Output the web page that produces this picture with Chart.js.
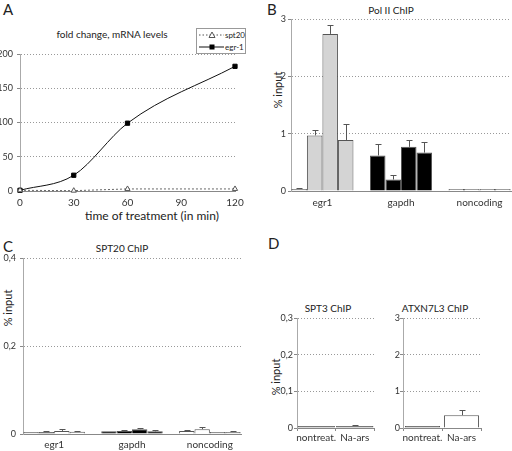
<!DOCTYPE html>
<html lang="en">
<head>
<meta charset="UTF-8" />
<title>mRNA fold change and ChIP</title>
<script src="https://cdn.jsdelivr.net/npm/chart.js"></script>
<style>
  body { margin: 0; background: #fff; font-family: Lato, "Noto Sans", sans-serif; color: #222; }
  #fig { position: relative; width: 512px; height: 451px; overflow: hidden; }
  #fig canvas { position: absolute; }
  .t { position: absolute; white-space: nowrap; transform: translate(-50%, -50%); font-size: 10px; }
  .panel { position: absolute; font-size: 15px; line-height: 1; }
  .yt { position: absolute; white-space: nowrap; font-size: 11px; transform: translate(-50%, -50%) rotate(-90deg); }
  #legA { position: absolute; left: 196px; top: 28px; width: 48px; height: 24px; border: 1px solid #999; font-size: 8px; }
  #legA div { height: 12px; display: flex; align-items: center; white-space: nowrap; }
</style>
</head>
<body>
<div id="fig">
  <div class="panel" style="left:3px;top:2px">A</div>
  <div class="panel" style="left:267px;top:2px">B</div>
  <div class="panel" style="left:3px;top:239px">C</div>
  <div class="panel" style="left:268px;top:236px">D</div>

  <div class="t" style="left:112px;top:34px">fold change, mRNA levels</div>
  <div class="t" style="left:152px;top:215px;font-size:12px">time of treatment (in min)</div>
  <div class="t" style="left:391px;top:10px">Pol II ChIP</div>
  <div class="t" style="left:122px;top:248px">SPT20 ChIP</div>
  <div class="t" style="left:328px;top:308px">SPT3 ChIP</div>
  <div class="t" style="left:435px;top:308px">ATXN7L3 ChIP</div>
  <div class="yt" style="left:277px;top:90px">% input</div>
  <div class="yt" style="left:7px;top:308px">% input</div>
  <div class="yt" style="left:275px;top:377px">% input</div>

  <div id="legA"></div>

  <canvas id="chartD1" width="130" height="226" style="left:256px;top:225px"></canvas>
  <canvas id="chartD2" width="126" height="226" style="left:386px;top:225px"></canvas>
  <canvas id="chartA" width="256" height="225" style="left:0;top:0"></canvas>
  <canvas id="chartB" width="256" height="225" style="left:256px;top:0"></canvas>
  <canvas id="chartC" width="256" height="226" style="left:0;top:225px"></canvas>
</div>

<script>
  // A: fold change of mRNA over time
  const timePoints = [0, 30, 60, 120];
  const egr1Fold = [1, 23, 99, 182];
  const spt20Fold = [1, 0.5, 3, 3];
  const seriesNames = ['spt20', 'egr-1'];

  // B / C: gene groups, four bars each
  const genes = ['egr1', 'gapdh', 'noncoding'];

  const polII1 = [0.02, 0.62, 0.005];
  const polII2 = [0.97, 0.20, 0.005];
  const polII3 = [2.74, 0.77, 0.005];
  const polII4 = [0.89, 0.67, 0.005];
  const polIIErr1 = [0.01, 0.2, 0];
  const polIIErr2 = [0.1, 0.08, 0];
  const polIIErr3 = [0.15, 0.12, 0];
  const polIIErr4 = [0.28, 0.19, 0];

  const spt20b1 = [0.003, 0.006, 0.007];
  const spt20b2 = [0.002, 0.007, 0.011];
  const spt20b3 = [0.007, 0.011, 0.003];
  const spt20b4 = [0.005, 0.006, 0.004];
  const spt20Err1 = [0, 0, 0.002];
  const spt20Err2 = [0.002, 0.001, 0.004];
  const spt20Err3 = [0.004, 0.002, 0];
  const spt20Err4 = [0.002, 0.001, 0.001];

  // D: treatment comparison
  const treatments = ['nontreat.', 'Na-ars'];
  const spt3 = [0.002, 0.002];
  const spt3Err = [0, 0.001];
  const atxn7l3 = [0.01, 0.35];
  const atxn7l3Err = [0, 0.14];
  const spt3Ticks = [0, 0.1, 0.2, 0.3];

  const polIIFill = ['#d4d4d4', '#000', '#fff'];
  const spt20Fill = [
    ['#ccc', '#000', '#fff'],
    ['#555', '#000', '#fff'],
    ['#fff', '#000', '#ccc'],
    ['#fff', '#000', '#ccc']
  ];

  Chart.defaults.font.family = 'Lato, "Noto Sans", sans-serif';
  Chart.defaults.color = '#333';
  Chart.defaults.animation = false;
  Chart.defaults.plugins.legend.display = false;
  Chart.defaults.plugins.tooltip.enabled = false;

  const errorBars = {
    id: 'errorBars',
    afterDatasetsDraw(chart) {
      const ctx = chart.ctx, ys = chart.scales.y;
      ctx.save();
      ctx.strokeStyle = '#555';
      ctx.lineWidth = 1;
      chart.data.datasets.forEach((ds, di) => {
        if (!ds.errors) return;
        chart.getDatasetMeta(di).data.forEach((bar, i) => {
          const err = ds.errors[i];
          if (!err) return;
          const raw = ds.data[i];
          const v = typeof raw === 'object' ? raw.y : raw;
          const top = Math.round(Math.min(ys.getPixelForValue(v + err), bar.y - 1)) + 0.5;
          const x = Math.round(bar.x) + 0.5;
          ctx.beginPath();
          ctx.moveTo(x, bar.y);
          ctx.lineTo(x, top);
          ctx.moveTo(x - 3, top);
          ctx.lineTo(x + 3, top);
          ctx.stroke();
        });
      });
      ctx.restore();
    }
  };

  function yScale(max, step, width, pad, digits, tickList) {
    const s = {
      min: 0, max,
      ticks: {
        stepSize: step, padding: pad, font: { size: 9 }, autoSkip: false,
        callback: v => digits ? (v === 0 ? '0' : v.toFixed(digits).replace('.', ',')) : String(v)
      },
      grid: { color: '#999', tickLength: 3, tickColor: '#888' },
      border: { color: '#aaa', dash: [1, 2] },
      afterFit: sc => { sc.width = width; sc.paddingTop = 0; sc.paddingBottom = 0; }
    };
    if (tickList) s.afterBuildTicks = sc => { sc.ticks = tickList.map(value => ({ value })); };
    return s;
  }

  function pairBars(id, values, errors, fills, max, step, yw, ypad, right, catPct, digits, tickList) {
    return new Chart(document.getElementById(id), {
      type: 'bar',
      data: {
        labels: treatments,
        datasets: [{
          data: values, errors,
          backgroundColor: fills,
          borderColor: '#555', borderWidth: 1,
          minBarLength: 2,
          categoryPercentage: catPct, barPercentage: 1
        }]
      },
      options: {
        responsive: false,
        layout: { padding: { left: 0, right, top: 93, bottom: 0 } },
        scales: {
          x: {
            ticks: { padding: 1, font: { size: 10 }, maxRotation: 0, minRotation: 0, autoSkip: false },
            grid: { drawOnChartArea: false, tickLength: 3, color: '#888' },
            border: { color: '#888' },
            afterFit: s => { s.height = 23; s.paddingLeft = 0; s.paddingRight = 0; }
          },
          y: yScale(max, step, yw, ypad, digits, tickList)
        }
      },
      plugins: [errorBars]
    });
  }

  // D first
  pairBars('chartD1', spt3, spt3Err, ['#666', '#666'], 0.3, 0.1, 41, 1, 12, 0.97, 1, spt3Ticks);
  pairBars('chartD2', atxn7l3, atxn7l3Err, ['#666', '#fff'], 3, 1, 17, 0, 31, 0.9);

  // A
  new Chart(document.getElementById('chartA'), {
    type: 'line',
    data: {
      datasets: [
        {
          label: seriesNames[0],
          data: timePoints.map((t, i) => ({ x: t, y: spt20Fold[i] })),
          borderColor: '#666', borderWidth: 1, borderDash: [2, 2],
          pointStyle: 'triangle', pointRadius: 3,
          pointBackgroundColor: '#fff', pointBorderColor: '#555', pointBorderWidth: 1,
          clip: false
        },
        {
          label: seriesNames[1],
          data: timePoints.map((t, i) => ({ x: t, y: egr1Fold[i] })),
          borderColor: '#111', borderWidth: 1,
          cubicInterpolationMode: 'monotone',
          pointStyle: 'rect', pointRadius: 3,
          pointBackgroundColor: '#000', pointBorderColor: '#000',
          clip: false
        }
      ]
    },
    options: {
      responsive: false,
      layout: { padding: { left: 0, right: 21, top: 54, bottom: 0 } },
      scales: {
        x: {
          type: 'linear', min: 0, max: 120,
          ticks: { stepSize: 30, padding: 6, font: { size: 10 } },
          grid: { display: false, drawTicks: false },
          border: { color: '#888' },
          afterFit: s => { s.height = 34; s.paddingLeft = 0; s.paddingRight = 0; }
        },
        y: yScale(200, 50, 20, 4)
      }
    }
  });

  // legend for A
  const legA = document.getElementById('legA');
  legA.innerHTML = seriesNames.map((name, i) => {
    const line = i === 0
      ? '<line x1="2" y1="5" x2="27" y2="5" stroke="#555" stroke-dasharray="1.5,2"/><polygon points="15,2 18,7.5 12,7.5" fill="#fff" stroke="#555"/>'
      : '<line x1="2" y1="5" x2="27" y2="5" stroke="#111"/><rect x="12.5" y="2.5" width="5" height="5" fill="#000"/>';
    return '<div><svg width="28" height="10">' + line + '</svg><span>' + name + '</span></div>';
  }).join('');

  function groupedBars(id, values, errors, fills, max, step, yw, ypad, pad, xh, lblPad, digits) {
    return new Chart(document.getElementById(id), {
      type: 'bar',
      data: {
        datasets: values.map((vals, k) => ({
          data: vals.map((v, i) => ({ x: i, y: v })),
          errors: errors[k],
          backgroundColor: fills[k],
          borderColor: '#555', borderWidth: 1,
          minBarLength: 2,
          categoryPercentage: 0.79, barPercentage: 1
        }))
      },
      options: {
        responsive: false,
        layout: { padding: pad },
        scales: {
          x: {
            type: 'linear', min: -0.4, max: 2.4, bounds: 'data', offset: false,
            afterBuildTicks: s => { s.ticks = genes.map((g, i) => ({ value: i })); },
            ticks: { padding: lblPad, font: { size: 10 }, maxRotation: 0, autoSkip: false, callback: v => genes[v] },
            grid: { display: false, drawTicks: false },
            border: { color: '#888' },
            afterFit: s => { s.height = xh; s.paddingLeft = 0; s.paddingRight = 0; }
          },
          y: yScale(max, step, yw, ypad, digits)
        }
      },
      plugins: [errorBars]
    });
  }

  // B
  groupedBars('chartB',
    [polII1, polII2, polII3, polII4],
    [polIIErr1, polIIErr2, polIIErr3, polIIErr4],
    [polIIFill, polIIFill, polIIFill, polIIFill],
    3, 1, 35, 2, { left: 0, right: 1, top: 19, bottom: 0 }, 34, 6);

  // C
  groupedBars('chartC',
    [spt20b1, spt20b2, spt20b3, spt20b4],
    [spt20Err1, spt20Err2, spt20Err3, spt20Err4],
    spt20Fill,
    0.4, 0.2, 23, 4, { left: 0, right: 15, top: 33, bottom: 0 }, 17, 5, 1);
</script>
</body>
</html>
